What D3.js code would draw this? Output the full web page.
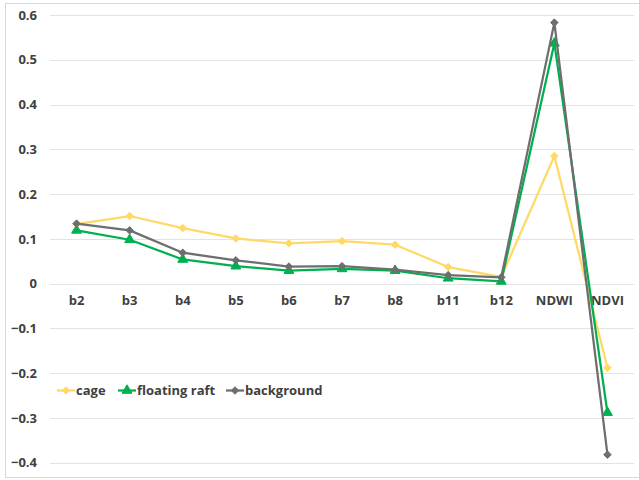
<!DOCTYPE html>
<html>
<head>
<meta charset="utf-8">
<script src="https://cdn.jsdelivr.net/npm/d3@7"></script>
<style>
  html, body { margin: 0; padding: 0; background: #fff; }
  svg { display: block; }
  text { font-family: "Open Sans", "Liberation Sans", sans-serif; font-weight: 700; fill: #404040; }
</style>
</head>
<body>
<svg id="chart" width="639" height="480"></svg>
<script>
// Spectral bands and indices along the x axis
const categories = ["b2", "b3", "b4", "b5", "b6", "b7", "b8", "b11", "b12", "NDWI", "NDVI"];

// Mean values per class
const cage = [0.133, 0.151, 0.124, 0.101, 0.090, 0.095, 0.087, 0.037, 0.015, 0.285, -0.188];
const floatingRaft = [0.119, 0.098, 0.054, 0.039, 0.029, 0.033, 0.029, 0.012, 0.005, 0.537, -0.288];
const background = [0.134, 0.119, 0.069, 0.052, 0.038, 0.039, 0.031, 0.019, 0.014, 0.583, -0.382];

const yTicks = [0.6, 0.5, 0.4, 0.3, 0.2, 0.1, 0, -0.1, -0.2, -0.3, -0.4];

const series = [
  { name: "cage", values: cage, color: "#FFD966", marker: "diamond" },
  { name: "floating raft", values: floatingRaft, color: "#00B050", marker: "triangle" },
  { name: "background", values: background, color: "#6E6E6E", marker: "diamond" }
];

const svg = d3.select("#chart");

// chart frame
svg.append("rect")
  .attr("x", 5.5).attr("y", 3.5)
  .attr("width", 640).attr("height", 474)
  .attr("fill", "#fff").attr("stroke", "#D9D9D9").attr("stroke-width", 1);

const plot = { left: 50, right: 634, top: 15, bottom: 462.7 };

const x = d3.scaleBand().domain(categories).range([plot.left, plot.right]);
const y = d3.scaleLinear().domain([-0.4, 0.6]).range([plot.bottom, plot.top]);

// horizontal gridlines
svg.append("g")
  .selectAll("line")
  .data(yTicks)
  .join("line")
  .attr("x1", plot.left).attr("x2", plot.right)
  .attr("y1", d => Math.round(y(d)) + 0.5).attr("y2", d => Math.round(y(d)) + 0.5)
  .attr("stroke", "#E3E3E3").attr("stroke-width", 1);

const styleText = sel => sel
  .attr("font-size", 13)
  .attr("font-family", "\"Open Sans\", sans-serif")
  .attr("font-weight", 700)
  .attr("fill", "#404040");

// y axis tick labels
const yAxis = d3.axisLeft(y).tickValues(yTicks).tickSize(0).tickPadding(0)
  .tickFormat(d => d === 0 ? "0" : d3.format(".1f")(d));
const gy = svg.append("g").attr("transform", `translate(37,0)`).call(yAxis);
gy.select(".domain").remove();
gy.selectAll("text").call(styleText);

// category labels sit just under the zero line
const xAxis = d3.axisBottom(x).tickSize(0).tickPadding(0);
const gx = svg.append("g").attr("transform", `translate(0,${y(0) + 12})`).call(xAxis);
gx.select(".domain").remove();
gx.selectAll("text").call(styleText);

const cx = (d, i) => x(categories[i]) + x.bandwidth() / 2;

const symbolFor = m => m === "triangle"
  ? d3.symbol().type(d3.symbolTriangle).size(42)
  : d3.symbol().type(d3.symbolDiamond2 || d3.symbolDiamond).size(36);

const line = d3.line().x(cx).y(d => y(d));

series.forEach(s => {
  const g = svg.append("g");
  g.append("path")
    .attr("d", line(s.values))
    .attr("fill", "none")
    .attr("stroke", s.color)
    .attr("stroke-width", 2.25)
    .attr("stroke-linejoin", "round");
  g.selectAll("path.mk")
    .data(s.values)
    .join("path")
    .attr("class", "mk")
    .attr("d", symbolFor(s.marker))
    .attr("transform", (d, i) => `translate(${cx(d, i)},${y(d)})`)
    .attr("fill", s.color)
    .attr("stroke", s.color)
    .attr("stroke-width", 1);
});

// legend
const legendX = [57, 118, 226];
const legendY = 390.5;
series.forEach((s, i) => {
  const g = svg.append("g").attr("transform", `translate(${legendX[i]},${legendY})`);
  g.append("line").attr("x1", 0).attr("x2", 18).attr("y1", 0).attr("y2", 0)
    .attr("stroke", s.color).attr("stroke-width", 2.25);
  g.append("path").attr("d", symbolFor(s.marker))
    .attr("transform", "translate(9,0)")
    .attr("fill", s.color).attr("stroke", s.color).attr("stroke-width", 1);
  g.append("text").attr("x", 19).attr("y", 0).attr("dy", "0.35em")
    .call(styleText)
    .text(s.name);
});
</script>
</body>
</html>
